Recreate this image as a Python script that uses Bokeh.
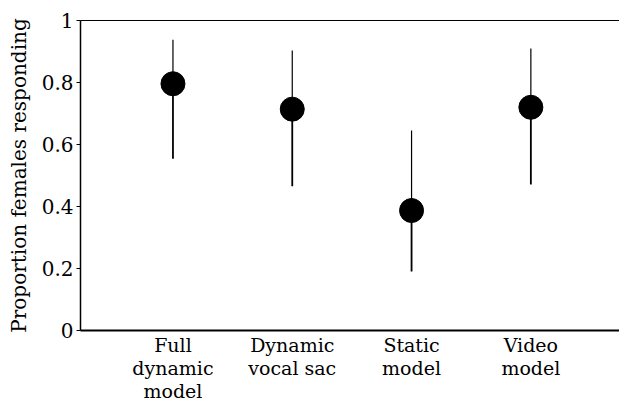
from bokeh.plotting import figure
from bokeh.models import Range1d, FixedTicker, LinearAxis, ColumnDataSource
from bokeh.embed import file_html
from bokeh.resources import INLINE

categories = ["Full\ndynamic\nmodel", "Dynamic\nvocal sac", "Static\nmodel", "Video\nmodel"]
xpos = [1, 2, 3, 4]
proportion = [0.796, 0.714, 0.387, 0.720]
upper = [0.938, 0.903, 0.645, 0.910]
lower = [0.554, 0.465, 0.190, 0.471]
yticks = [0, 0.2, 0.4, 0.6, 0.8, 1]
ytick_labels = {0: "0", 0.2: "0.2", 0.4: "0.4", 0.6: "0.6", 0.8: "0.8", 1: "1"}

FONT = "DejaVu Serif"

src = ColumnDataSource(dict(x=xpos, y=proportion, hi=upper, lo=lower))

p = figure(width=619, height=408, output_backend="svg", toolbar_location=None,
           x_range=Range1d(0.225, 4.743), y_range=Range1d(0, 1),
           min_border_left=80, min_border_right=0, min_border_top=20, min_border_bottom=78,
           x_axis_location="below")
p.outline_line_color = None
p.grid.grid_line_color = None
p.background_fill_color = "white"
p.border_fill_color = "white"

# whiskers
p.segment(x0="x", y0="y", x1="x", y1="hi", source=src, line_color="black", line_width=1.2)
p.segment(x0="x", y0="lo", x1="x", y1="y", source=src, line_color="black", line_width=1.8)
p.scatter(x="x", y="y", source=src, size=24, fill_color="black", line_color="black")

# y axis
ya = p.yaxis[0]
ya.ticker = FixedTicker(ticks=yticks)
ya.major_label_overrides = ytick_labels
ya.minor_tick_line_color = None
ya.major_tick_in = 0
ya.major_tick_out = 4
ya.major_tick_line_width = 1.2
ya.axis_line_width = 1.5
ya.major_label_standoff = 3
ya.major_label_text_font = FONT
ya.major_label_text_font_size = "20px"
ya.major_label_text_color = "black"
ya.axis_label = "Proportion females responding"
ya.axis_label_text_font = FONT
ya.axis_label_text_font_size = "20px"
ya.axis_label_text_font_style = "normal"
ya.axis_label_text_color = "black"
ya.axis_label_standoff = 8

# x axis
xa = p.xaxis[0]
xa.ticker = FixedTicker(ticks=xpos)
xa.major_label_overrides = {x: c for x, c in zip(xpos, categories)}
xa.major_tick_line_color = None
xa.major_tick_in = 0
xa.major_tick_out = 0
xa.minor_tick_line_color = None
xa.axis_line_width = 2
xa.major_label_standoff = 3
xa.major_label_text_font = FONT
xa.major_label_text_font_size = "19px"
xa.major_label_text_color = "black"
xa.major_label_text_line_height = 1.05

# top line
top = LinearAxis(ticker=FixedTicker(ticks=[]), major_label_text_font_size="0px",
                 major_tick_line_color=None, minor_tick_line_color=None,
                 major_tick_in=0, major_tick_out=0, axis_line_width=1.2)
p.add_layout(top, "above")

open("out.html", "w").write(file_html(p, INLINE))
